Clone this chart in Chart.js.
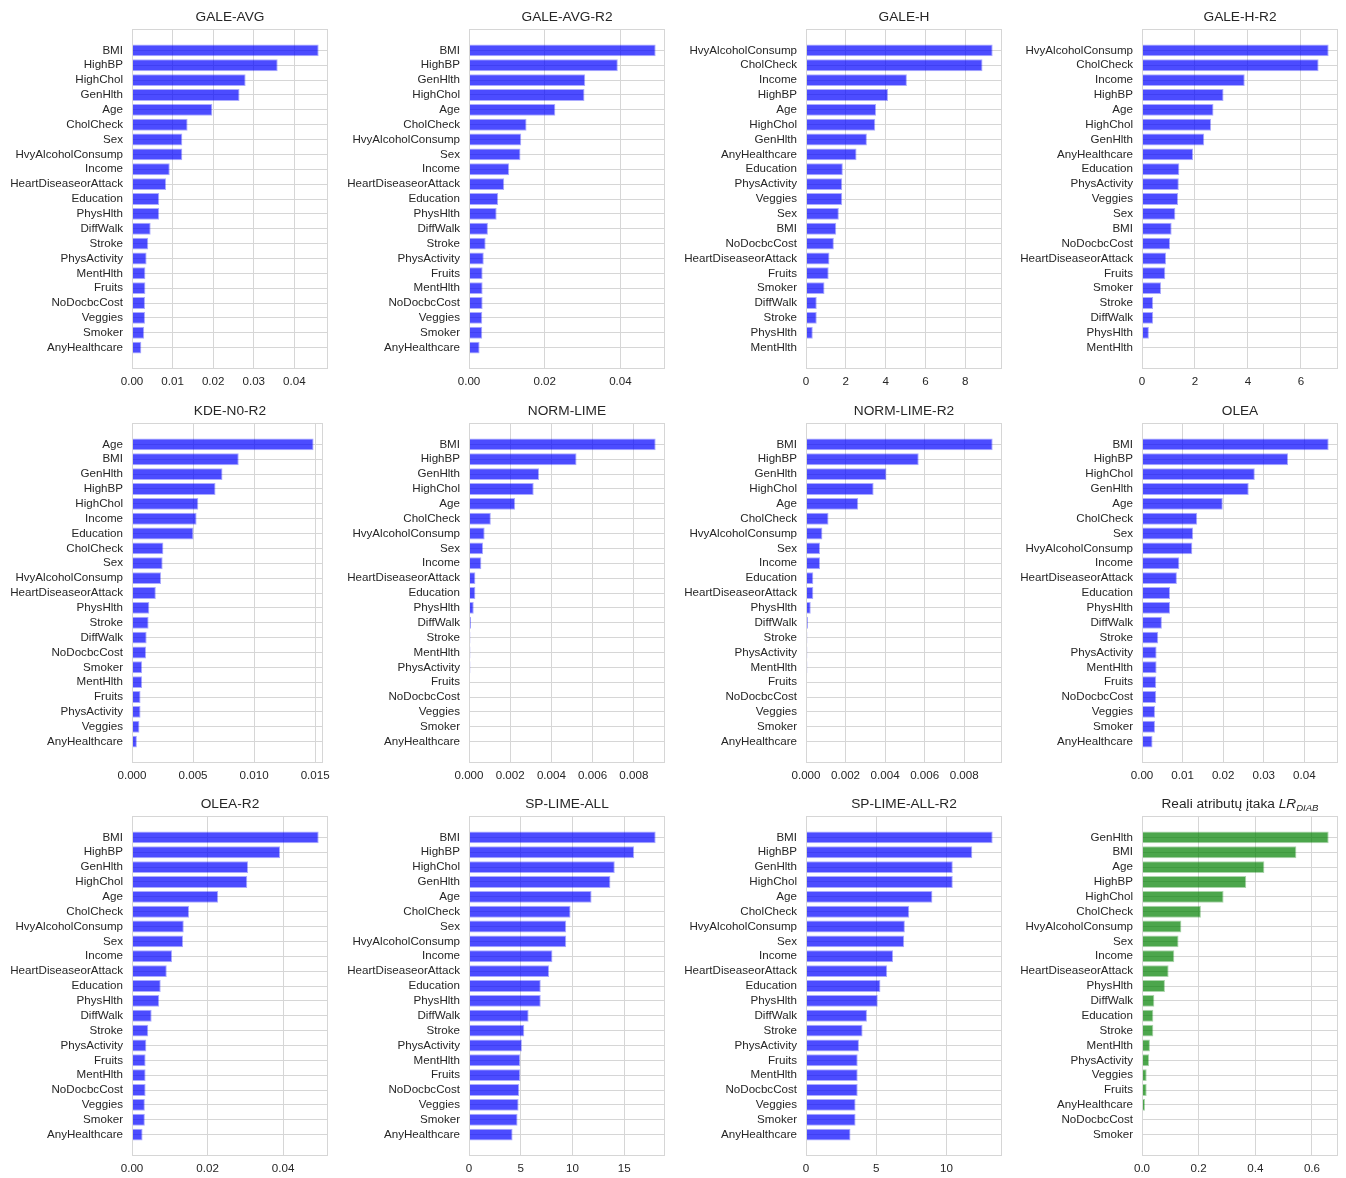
<!DOCTYPE html>
<html>
<head>
<meta charset="utf-8">
<script src="https://cdn.jsdelivr.net/npm/chart.js@4.4.1/dist/chart.umd.min.js"></script>
<style>
html, body { margin:0; padding:0; background:#ffffff; width:1346px; height:1178px; overflow:hidden; }
canvas { position:absolute; }
.title { position:absolute; text-align:center; font-family:"Liberation Sans", Arial, sans-serif; font-size:13.7px; line-height:16px; color:#262626; white-space:nowrap; }
.title sub { font-size:70%; vertical-align:-3px; line-height:0; }
</style>
</head>
<body>
<script>
// ---------------- DATA ----------------
const catsGaleAvg = ["BMI","HighBP","HighChol","GenHlth","Age","CholCheck","Sex","HvyAlcoholConsump","Income","HeartDiseaseorAttack","Education","PhysHlth","DiffWalk","Stroke","PhysActivity","MentHlth","Fruits","NoDocbcCost","Veggies","Smoker","AnyHealthcare"];
const valsGaleAvg = [0.0460,0.0359,0.0280,0.0265,0.0198,0.0137,0.0124,0.0124,0.0093,0.0084,0.0067,0.0067,0.0046,0.0040,0.0036,0.0033,0.0033,0.0032,0.0032,0.0030,0.0023];

const catsGaleAvgR2 = ["BMI","HighBP","GenHlth","HighChol","Age","CholCheck","HvyAlcoholConsump","Sex","Income","HeartDiseaseorAttack","Education","PhysHlth","DiffWalk","Stroke","PhysActivity","Fruits","MentHlth","NoDocbcCost","Veggies","Smoker","AnyHealthcare"];
const valsGaleAvgR2 = [0.0493,0.0393,0.0307,0.0305,0.0228,0.0152,0.0138,0.0136,0.0106,0.0093,0.0077,0.0073,0.0050,0.0044,0.0039,0.0036,0.0036,0.0036,0.0035,0.0035,0.0028];

const catsGaleH = ["HvyAlcoholConsump","CholCheck","Income","HighBP","Age","HighChol","GenHlth","AnyHealthcare","Education","PhysActivity","Veggies","Sex","BMI","NoDocbcCost","HeartDiseaseorAttack","Fruits","Smoker","DiffWalk","Stroke","PhysHlth","MentHlth"];
const valsGaleH = [9.38,8.87,5.07,4.12,3.52,3.48,3.06,2.54,1.85,1.82,1.82,1.65,1.52,1.40,1.18,1.14,0.93,0.54,0.54,0.34,0];

const catsGaleHR2 = ["HvyAlcoholConsump","CholCheck","Income","HighBP","Age","HighChol","GenHlth","AnyHealthcare","Education","PhysActivity","Veggies","Sex","BMI","NoDocbcCost","HeartDiseaseorAttack","Fruits","Smoker","Stroke","DiffWalk","PhysHlth","MentHlth"];
const valsGaleHR2 = [7.05,6.67,3.88,3.08,2.70,2.61,2.35,1.93,1.41,1.39,1.36,1.26,1.12,1.06,0.91,0.88,0.72,0.42,0.42,0.26,0];

const catsKdeN0R2 = ["Age","BMI","GenHlth","HighBP","HighChol","Income","Education","CholCheck","Sex","HvyAlcoholConsump","HeartDiseaseorAttack","PhysHlth","Stroke","DiffWalk","NoDocbcCost","Smoker","MentHlth","Fruits","PhysActivity","Veggies","AnyHealthcare"];
const valsKdeN0R2 = [0.01487,0.00874,0.00741,0.00684,0.00543,0.00529,0.00503,0.00257,0.00251,0.00238,0.00195,0.00142,0.00136,0.00120,0.00115,0.00083,0.00083,0.00070,0.00070,0.00061,0.00040];

const catsNormLime = ["BMI","HighBP","GenHlth","HighChol","Age","CholCheck","HvyAlcoholConsump","Sex","Income","HeartDiseaseorAttack","Education","PhysHlth","DiffWalk","Stroke","MentHlth","PhysActivity","Fruits","NoDocbcCost","Veggies","Smoker","AnyHealthcare"];
const valsNormLime = [0.00906,0.00522,0.00340,0.00314,0.00224,0.00106,0.00076,0.00068,0.00060,0.00031,0.00031,0.00023,0.00010,0.00007,0.00007,0.00007,0.00001,0.00001,0.00001,0.00001,0.00001];

const catsNormLimeR2 = ["BMI","HighBP","GenHlth","HighChol","Age","CholCheck","HvyAlcoholConsump","Sex","Income","Education","HeartDiseaseorAttack","PhysHlth","DiffWalk","Stroke","PhysActivity","MentHlth","Fruits","NoDocbcCost","Veggies","Smoker","AnyHealthcare"];
const valsNormLimeR2 = [0.00944,0.00570,0.00407,0.00342,0.00264,0.00114,0.00083,0.00071,0.00071,0.00037,0.00037,0.00024,0.00010,0.00007,0.00007,0.00007,0.00001,0.00001,0.00001,0.00001,0.00001];

const catsOlea = ["BMI","HighBP","HighChol","GenHlth","Age","CholCheck","Sex","HvyAlcoholConsump","Income","HeartDiseaseorAttack","Education","PhysHlth","DiffWalk","Stroke","PhysActivity","MentHlth","Fruits","NoDocbcCost","Veggies","Smoker","AnyHealthcare"];
const valsOlea = [0.0460,0.0360,0.0278,0.0263,0.0199,0.0136,0.0126,0.0124,0.0092,0.0086,0.0069,0.0069,0.0049,0.0040,0.0036,0.0036,0.0035,0.0035,0.0032,0.0032,0.0026];

const catsOleaR2 = ["BMI","HighBP","GenHlth","HighChol","Age","CholCheck","HvyAlcoholConsump","Sex","Income","HeartDiseaseorAttack","Education","PhysHlth","DiffWalk","Stroke","PhysActivity","Fruits","MentHlth","NoDocbcCost","Veggies","Smoker","AnyHealthcare"];
const valsOleaR2 = [0.0494,0.0392,0.0307,0.0305,0.0228,0.0151,0.0137,0.0135,0.0106,0.0092,0.0076,0.0072,0.0052,0.0043,0.0038,0.0036,0.0036,0.0036,0.0034,0.0034,0.0028];

const catsSpLimeAll = ["BMI","HighBP","HighChol","GenHlth","Age","CholCheck","Sex","HvyAlcoholConsump","Income","HeartDiseaseorAttack","Education","PhysHlth","DiffWalk","Stroke","PhysActivity","MentHlth","Fruits","NoDocbcCost","Veggies","Smoker","AnyHealthcare"];
const valsSpLimeAll = [18.03,15.95,14.08,13.66,11.84,9.81,9.39,9.39,8.06,7.73,6.93,6.93,5.76,5.34,5.11,4.95,4.95,4.85,4.79,4.69,4.21];

const catsSpLimeAllR2 = ["BMI","HighBP","GenHlth","HighChol","Age","CholCheck","HvyAlcoholConsump","Sex","Income","HeartDiseaseorAttack","Education","PhysHlth","DiffWalk","Stroke","PhysActivity","Fruits","MentHlth","NoDocbcCost","Veggies","Smoker","AnyHealthcare"];
const valsSpLimeAllR2 = [13.29,11.84,10.45,10.45,9.00,7.35,7.04,6.99,6.20,5.78,5.30,5.11,4.34,4.03,3.77,3.68,3.68,3.68,3.53,3.53,3.17];

const catsReal = ["GenHlth","BMI","Age","HighBP","HighChol","CholCheck","HvyAlcoholConsump","Sex","Income","HeartDiseaseorAttack","PhysHlth","DiffWalk","Education","Stroke","MentHlth","PhysActivity","Veggies","Fruits","AnyHealthcare","NoDocbcCost","Smoker"];
const valsReal = [0.659,0.545,0.432,0.368,0.288,0.208,0.139,0.129,0.114,0.094,0.081,0.0435,0.040,0.040,0.028,0.025,0.0165,0.0165,0.0106,0.001,0.0005];

// tick values & labels
const ticks001 = [0,0.01,0.02,0.03,0.04];   const labels001 = ["0.00","0.01","0.02","0.03","0.04"];
const ticks002 = [0,0.02,0.04];             const labels002 = ["0.00","0.02","0.04"];
const ticksH   = [0,2,4,6,8];               const labelsH   = ["0","2","4","6","8"];
const ticksHR2 = [0,2,4,6];                 const labelsHR2 = ["0","2","4","6"];
const ticksKde = [0,0.005,0.010,0.015];     const labelsKde = ["0.000","0.005","0.010","0.015"];
const ticksNorm = [0,0.002,0.004,0.006,0.008]; const labelsNorm = ["0.000","0.002","0.004","0.006","0.008"];
const ticksSp  = [0,5,10,15];               const labelsSp  = ["0","5","10","15"];
const ticksSpR2 = [0,5,10];                 const labelsSpR2 = ["0","5","10"];
const ticksReal = [0,0.2,0.4,0.6];          const labelsReal = ["0.0","0.2","0.4","0.6"];

const titles = ["GALE-AVG","GALE-AVG-R2","GALE-H","GALE-H-R2","KDE-N0-R2","NORM-LIME","NORM-LIME-R2","OLEA","OLEA-R2","SP-LIME-ALL","SP-LIME-ALL-R2",'Reali atributų įtaka <i>LR</i><sub><i>DIAB</i></sub>'];

// ---------------- BUILD ----------------
const panels = [
  {cats:catsGaleAvg, vals:valsGaleAvg, ticks:ticks001, labels:labels001},
  {cats:catsGaleAvgR2, vals:valsGaleAvgR2, ticks:ticks002, labels:labels002},
  {cats:catsGaleH, vals:valsGaleH, ticks:ticksH, labels:labelsH},
  {cats:catsGaleHR2, vals:valsGaleHR2, ticks:ticksHR2, labels:labelsHR2},
  {cats:catsKdeN0R2, vals:valsKdeN0R2, ticks:ticksKde, labels:labelsKde},
  {cats:catsNormLime, vals:valsNormLime, ticks:ticksNorm, labels:labelsNorm},
  {cats:catsNormLimeR2, vals:valsNormLimeR2, ticks:ticksNorm, labels:labelsNorm},
  {cats:catsOlea, vals:valsOlea, ticks:ticks001, labels:labels001},
  {cats:catsOleaR2, vals:valsOleaR2, ticks:ticks002, labels:labels002},
  {cats:catsSpLimeAll, vals:valsSpLimeAll, ticks:ticksSp, labels:labelsSp},
  {cats:catsSpLimeAllR2, vals:valsSpLimeAllR2, ticks:ticksSpR2, labels:labelsSpR2},
  {cats:catsReal, vals:valsReal, ticks:ticksReal, labels:labelsReal, green:true}
];

const colPlotLeft = [132, 469, 806, 1142];
const rowPlotTop = [29, 423, 816];
const PLOT_W = 196, PLOT_H = 340, YAXIS_W = 130, XAXIS_H = 25, TOP_PAD = 29, RIGHT_PAD = 8;
const FONT = '"Liberation Sans", Arial, sans-serif';
const TEXT = '#262626';
const GRID = '#d6d6d6';

const spinePlugin = {
  id: 'spines',
  afterDatasetsDraw(chart) {
    const {ctx, chartArea: a} = chart;
    ctx.save();
    ctx.strokeStyle = GRID;
    ctx.lineWidth = 1;
    const l = Math.round(a.left) + 0.5, t = Math.round(a.top) + 0.5;
    const r = Math.round(a.right) - 0.5, b = Math.round(a.bottom) - 0.5;
    ctx.strokeRect(l, t, r - l, b - t);
    ctx.restore();
  }
};

panels.forEach((p, k) => {
  const r = Math.floor(k / 4), c = k % 4;
  const cv = document.createElement('canvas');
  const W = YAXIS_W + PLOT_W + RIGHT_PAD, H = TOP_PAD + PLOT_H + XAXIS_H;
  cv.width = W; cv.height = H;
  cv.style.left = (colPlotLeft[c] - YAXIS_W) + 'px';
  cv.style.top = (rowPlotTop[r] - TOP_PAD) + 'px';
  cv.style.width = W + 'px'; cv.style.height = H + 'px';
  document.body.appendChild(cv);

  const t = document.createElement('div');
  t.className = 'title';
  t.style.left = (colPlotLeft[c] - 40) + 'px';
  t.style.width = (PLOT_W + 80) + 'px';
  t.style.top = (rowPlotTop[r] - 20.5) + 'px';
  t.innerHTML = titles[k];
  document.body.appendChild(t);

  const n = p.cats.length;
  const yMin = -0.4 - 0.05 * (n - 0.2);
  const yMax = (n - 1) + 0.4 + 0.05 * (n - 0.2);
  const xMax = 1.05 * Math.max(...p.vals);

  new Chart(cv, {
    type: 'bar',
    data: {
      datasets: [{
        data: p.vals.map((v, i) => ({x: v, y: i})),
        backgroundColor: p.green ? 'rgba(0,128,0,0.7)' : 'rgba(0,0,255,0.7)',
        borderColor: p.green ? 'rgba(0,128,0,0.33)' : 'rgba(0,0,255,0.33)',
        borderWidth: 1,
        barPercentage: 1,
        categoryPercentage: 0.8
      }]
    },
    options: {
      indexAxis: 'y',
      responsive: false,
      animation: false,
      devicePixelRatio: 1,
      layout: {padding: {top: TOP_PAD, right: RIGHT_PAD, left: 0, bottom: 0}},
      plugins: {legend: {display: false}, tooltip: {enabled: false}, title: {display: false}},
      scales: {
        x: {
          type: 'linear', min: 0, max: xMax, offset: false,
          afterBuildTicks: ax => { ax.ticks = p.ticks.map(v => ({value: v})); },
          afterFit: s => { s.height = XAXIS_H; },
          grid: {color: GRID, lineWidth: 1, drawTicks: false, offset: false},
          border: {display: false},
          ticks: {padding: 6, autoSkip: false, maxRotation: 0, color: TEXT,
                  font: {family: FONT, size: 11.6},
                  callback: (v, i) => p.labels[i]}
        },
        y: {
          type: 'linear', reverse: true, min: yMin, max: yMax, offset: false,
          afterBuildTicks: ax => { ax.ticks = p.cats.map((_, i) => ({value: i})); },
          afterFit: s => { s.width = YAXIS_W; },
          grid: {color: GRID, lineWidth: 1, drawTicks: false, offset: false},
          border: {display: false},
          ticks: {padding: 9, autoSkip: false, color: TEXT,
                  font: {family: FONT, size: 11.6},
                  callback: (v) => p.cats[Math.round(v)]}
        }
      }
    },
    plugins: [spinePlugin]
  });
});
</script>
</body>
</html>
